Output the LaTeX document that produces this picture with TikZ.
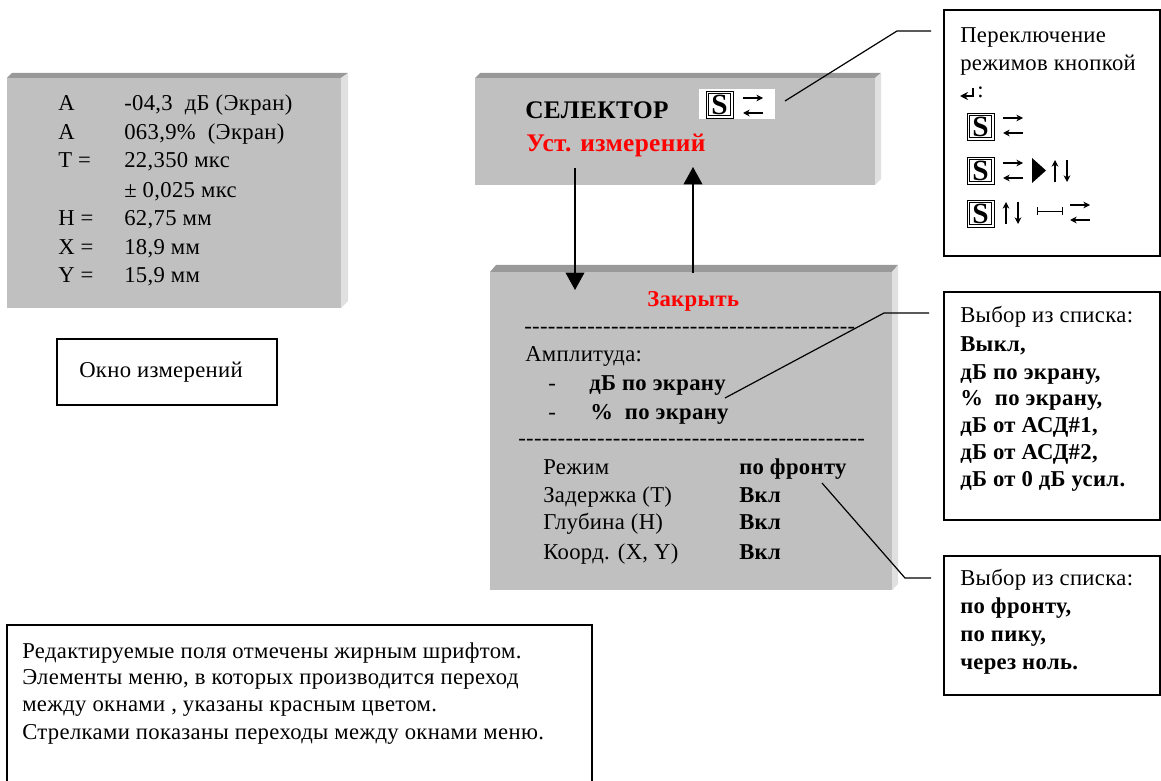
\documentclass[tikz,border=0pt]{standalone}
\usepackage{fontspec}
\setmainfont[LetterSpace=1.5]{Liberation Serif}
\usetikzlibrary{arrows.meta, positioning}
\newfontfamily\dashfont[LetterSpace=1.5]{Liberation Serif}
\definecolor{panelface}{HTML}{C0C0C0}
\definecolor{paneltop}{HTML}{999999}
\definecolor{panelside}{HTML}{E0E0E0}

\begin{document}
\begin{tikzpicture}[
    x=0.75pt, y=-0.75pt,
    font=\fontsize{17}{19}\selectfont,
    note/.style={draw, line width=0.9pt},
    txt/.style={anchor=base west, inner sep=0pt},
    boldtxt/.style={txt, font=\fontsize{17}{19}\selectfont\bfseries},
    headtxt/.style={txt, font=\fontsize{19}{21}\selectfont\bfseries},
    redtxt/.style={boldtxt, text=red},
    leader/.style={line width=0.9pt},
    jump/.style={line width=1.1pt, -{Triangle[length=13pt, width=14pt]}},
    tinyarrow/.style={line width=0.8pt, -{Stealth[length=5pt, width=5pt]}},
    pics/selbtn/.style={code={
        \draw[line width=0.7pt] (0,0) rectangle (27,27);
        \draw[line width=0.3pt] (2.5,2.5) rectangle (24.5,24.5);
        \node[font=\fontsize{22}{22}\selectfont\bfseries, inner sep=0pt] at (13.5,13.5) {S};
    }},
    pics/swapicon/.style={code={
        \draw[tinyarrow] (0,0) -- (20,0);
        \draw[tinyarrow] (20,15) -- (0,15);
    }},
    pics/updownicon/.style={code={
        \draw[tinyarrow] (0,22) -- (0,0);
        \draw[tinyarrow] (12,0) -- (12,22);
    }}
]
\useasboundingbox (0,0) rectangle (1161,781);

% Panels
\fill[paneltop] (7,78) -- (12,73) -- (348,73) -- (341,78) -- cycle;
\fill[panelside] (341,78) -- (348,73) -- (348,301) -- (341,308) -- cycle;
\fill[panelface] (7,78) rectangle (341,308);
\fill[paneltop] (475,78) -- (480,73) -- (881,73) -- (875,78) -- cycle;
\fill[panelside] (875,78) -- (881,73) -- (881,179) -- (875,185) -- cycle;
\fill[panelface] (475,78) rectangle (875,185);
\fill[paneltop] (490,272) -- (496,265) -- (898,265) -- (892,272) -- cycle;
\fill[panelside] (892,272) -- (898,265) -- (898,584) -- (892,590) -- cycle;
\fill[panelface] (490,272) rectangle (892,590);

% Measurement window
\node[txt] (ampdb) at (58,111) {А};
\node[txt] (ampdbval) at (124,111) {-04,3\ \ дБ (Экран)};
\node[txt] (amppct) at (58,140) {А};
\node[txt] (amppctval) at (124,140) {063,9\%\ \ (Экран)};
\node[txt] (tlabel) at (58,168) {Т =};
\node[txt] (tval) at (124,168) {22,350 мкс};
\node[txt] (tdelta) at (124,198) {± 0,025 мкс};
\node[txt] (hlabel) at (58,226) {Н =};
\node[txt] (hval) at (124,226) {62,75 мм};
\node[txt] (xlabel) at (58,254) {Х =};
\node[txt] (xval) at (124,254) {18,9 мм};
\node[txt] (ylabel) at (58,282) {Y =};
\node[txt] (yval) at (124,282) {15,9 мм};

% Selector window
\node[headtxt] (selector) at (525,119) {СЕЛЕКТОР};
\node[headtxt, text=red] (setup) at (526,152) {Уст. измерений};
\fill[white] (699,89) rectangle (775,119);
\begin{scope}
    \clip (699,89) rectangle (775,119);
    \pic at (706,91) {selbtn};
\end{scope}
\pic at (743,98) {swapicon};

% Settings window
\node[redtxt] (closeitem) at (647,306) {Закрыть};
\node[txt] (dashone) at (524,333) {\dashfont ------------------------------------------};
\node[txt] (amptitle) at (525,361) {Амплитуда:};
\node[txt] (dashdb) at (548,390) {-};
\node[boldtxt] (dbitem) at (589,390) {дБ по экрану};
\node[txt] (dashpct) at (548,419) {-};
\node[boldtxt] (pctitem) at (590,419) {\%\ \ по экрану};
\node[txt] (dashtwo) at (518,445) {\dashfont --------------------------------------------};
\node[txt] (modelabel) at (543,474) {Режим};
\node[boldtxt] (modeval) at (739,474) {по фронту};
\node[txt] (delaylabel) at (543,502) {Задержка (Т)};
\node[boldtxt] (delayval) at (739,502) {Вкл};
\node[txt] (depthlabel) at (543,529) {Глубина (Н)};
\node[boldtxt] (depthval) at (739,529) {Вкл};
\node[txt] (coordlabel) at (543,559) {Коорд. (X, Y)};
\node[boldtxt] (coordval) at (739,559) {Вкл};

% Note boxes
\draw[note] (57,339) rectangle (277,405);
\node[txt] (wincap) at (79,377) {Окно измерений};
\draw[note] (944,10) rectangle (1160,256);
\node[txt] (swtext) at (960,43) {Переключение};
\node[txt] (swtexttwo) at (960,71) {режимов кнопкой};
\node[txt] (swcolon) at (977,98) {:};
\draw[line width=1pt, -{Stealth[length=6pt, width=6pt]}] (973,88) -- (973,96) -- (960,96);
\pic at (967,113) {selbtn};
\pic at (1003,118) {swapicon};
\pic at (967,157) {selbtn};
\pic at (1003,163) {swapicon};
\fill (1032,158) -- (1046,170.5) -- (1032,183) -- cycle;
\pic at (1055,160) {updownicon};
\pic at (967,200) {selbtn};
\pic at (1006,202) {updownicon};
\draw[line width=0.7pt] (1037,207) -- (1037,215) (1037,211) -- (1062,211) (1062,207) -- (1062,215);
\pic at (1070,205) {swapicon};

\draw[note] (944,292) rectangle (1160,520);
\node[txt] (listone) at (960,322) {Выбор из списка:};
\node[boldtxt] (listonea) at (960,351) {Выкл,};
\node[boldtxt] (listoneb) at (960,379) {дБ по экрану,};
\node[boldtxt] (listonec) at (960,405) {\%\ \ по экрану,};
\node[boldtxt] (listoned) at (960,432) {дБ от АСД\#1,};
\node[boldtxt] (listonee) at (960,459) {дБ от АСД\#2,};
\node[boldtxt] (listonef) at (960,486) {дБ от 0 дБ усил.};

\draw[note] (944,556) rectangle (1160,695);
\node[txt] (listtwo) at (960,585) {Выбор из списка:};
\node[boldtxt] (listtwoa) at (960,613) {по фронту,};
\node[boldtxt] (listtwob) at (960,641) {по пику,};
\node[boldtxt] (listtwoc) at (960,669) {через ноль.};

\draw[note] (7,625) rectangle (592,790);
\node[txt] (legendone) at (22,658) {Редактируемые поля отмечены жирным шрифтом.};
\node[txt] (legendtwo) at (22,684) {Элементы меню, в которых производится переход};
\node[txt] (legendthree) at (22,711) {между окнами , указаны красным цветом.};
\node[txt] (legendfour) at (22,739) {Стрелками показаны переходы между окнами меню.};

% Arrows
\coordinate (downstart) at (575,168);
\coordinate (downend) at (575,290);
\coordinate (upstart) at (693,273);
\coordinate (upend) at (693,167);
\draw[jump] (downstart) -- (downend);
\draw[jump] (upstart) -- (upend);

% Leaders
\coordinate (swfrom) at (785,101);
\coordinate (listonefrom) at (725,398);
\coordinate (listtwofrom) at (822,483);
\draw[leader] (swfrom) -- (897,31) -- (931,31);
\draw[leader] (listonefrom) -- (884,313) -- (929,313);
\draw[leader] (listtwofrom) -- (905,578) -- (931,578);

\end{tikzpicture}
\end{document}
